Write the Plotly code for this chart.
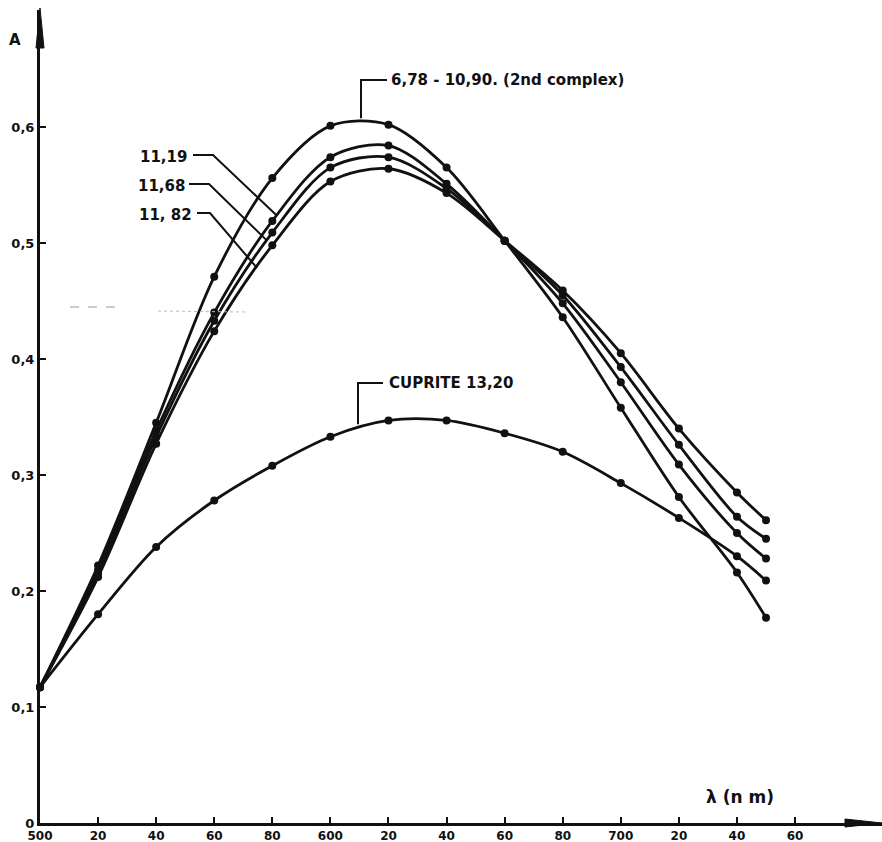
import numpy as np
import plotly.graph_objects as go

# Absorbance spectra (A vs wavelength in nm)
wavelength = [500, 520, 540, 560, 580, 600, 620, 640, 660, 680, 700, 720, 740, 750]
a_complex2 = [0.117, 0.222, 0.345, 0.471, 0.556, 0.601, 0.602, 0.565, 0.502, 0.436, 0.358, 0.281, 0.216, 0.177]
a_1119 = [0.117, 0.218, 0.338, 0.440, 0.519, 0.574, 0.584, 0.551, 0.502, 0.448, 0.380, 0.309, 0.250, 0.228]
a_1168 = [0.117, 0.215, 0.333, 0.433, 0.509, 0.565, 0.574, 0.547, 0.502, 0.455, 0.393, 0.326, 0.264, 0.245]
a_1182 = [0.117, 0.212, 0.327, 0.424, 0.498, 0.553, 0.564, 0.543, 0.502, 0.459, 0.405, 0.340, 0.285, 0.261]
a_cuprite = [0.117, 0.180, 0.238, 0.278, 0.308, 0.333, 0.347, 0.347, 0.336, 0.320, 0.293, 0.263, 0.230, 0.209]

x_tickvals = [500, 520, 540, 560, 580, 600, 620, 640, 660, 680, 700, 720, 740, 760]
x_ticktext = ["500", "20", "40", "60", "80", "600", "20", "40", "60", "80", "700", "20", "40", "60"]
y_tickvals = [0, 0.1, 0.2, 0.3, 0.4, 0.5, 0.6]
y_ticktext = ["0", "0,1", "0,2", "0,3", "0,4", "0,5", "0,6"]

W, H = 882, 842
ML, MB, MT = 40, 19, 10
PX_PER_NM = 2.904
PX_PER_A = 1160.0
X_MAX = 500 + (W - ML) / PX_PER_NM
Y_MAX = (H - MB - MT) / PX_PER_A

INK = "#111111"
FONT = "DejaVu Sans"

fig = go.Figure()

series = [a_complex2, a_1119, a_1168, a_1182, a_cuprite]
for ys in series:
    fig.add_trace(go.Scatter(
        x=wavelength, y=ys, mode="lines+markers",
        line=dict(color=INK, width=2.8, shape="spline", smoothing=0.9),
        marker=dict(color=INK, size=8),
        showlegend=False, cliponaxis=False,
    ))

def nm(px):
    return 500 + (px - ML) / PX_PER_NM

def av(py):
    return (H - MB - py) / PX_PER_A

def px_paper(px):
    return (px - ML) / (W - ML)

def py_paper(py):
    return (H - MB - py) / (H - MB - MT)

shapes = []
annotations = []

def leader(points):
    path = "M " + " L ".join(f"{x},{y}" for x, y in points)
    shapes.append(dict(type="path", path=path, xref="x", yref="y",
                       line=dict(color=INK, width=2)))

lab_font = dict(family=FONT, size=15, color=INK, weight="bold")

# 2nd complex label: leader rises from the peak of the curve
xp = nm(361)
yp = float(np.interp(xp, wavelength, a_complex2)) + 0.006
leader([(xp, yp), (xp, av(80)), (nm(387), av(80))])
annotations.append(dict(x=nm(389), y=av(80), xref="x", yref="y", text="6,78 - 10,90. (2nd complex)",
                        showarrow=False, xanchor="left", yanchor="middle", font=lab_font))

# 11,19 / 11,68 / 11,82 labels with bent leaders to their curves
for label, ys, ly, x_end_px, x0_px, x1_px, text_right_px in [
    ("11,19", a_1119, 155, 277, 193, 213, 189),
    ("11,68", a_1168, 184, 267, 189, 209, 187),
    ("11, 82", a_1182, 213, 257, 197, 210, 194),
]:
    xe = nm(x_end_px)
    ye = float(np.interp(xe, wavelength, ys))
    leader([(nm(x0_px), av(ly)), (nm(x1_px), av(ly)), (xe, ye)])
    annotations.append(dict(x=nm(text_right_px), y=av(ly + 2), xref="x", yref="y", text=label,
                            showarrow=False, xanchor="right", yanchor="middle", font=lab_font))

# Cuprite label
xc = nm(358)
yc = float(np.interp(xc, wavelength, a_cuprite)) + 0.004
leader([(xc, yc), (xc, av(383)), (nm(383), av(383))])
annotations.append(dict(x=nm(387), y=av(383), xref="x", yref="y", text="CUPRITE 13,20",
                        showarrow=False, xanchor="left", yanchor="middle", font=lab_font))

# Axis titles
annotations.append(dict(x=nm(740), y=av(797), xref="x", yref="y", text="λ (n m)",
                        showarrow=False, xanchor="center", yanchor="middle",
                        font=dict(family=FONT, size=17, color=INK, weight="bold")))
annotations.append(dict(x=px_paper(15), y=py_paper(40), xref="paper", yref="paper",
                        text="A", showarrow=False, xanchor="center", yanchor="middle",
                        font=dict(family=FONT, size=15, color=INK, weight="bold")))

# Arrow heads on both axes (paper-referenced so they are not clipped)
def tri(pts):
    return "M " + " L ".join(f"{px_paper(a)},{py_paper(b)}" for a, b in pts) + " Z"

shapes.append(dict(type="path", xref="paper", yref="paper", fillcolor=INK, line=dict(color=INK, width=1),
                   path=tri([(36, 48), (40, 8), (44, 48)])))
shapes.append(dict(type="path", xref="paper", yref="paper", fillcolor=INK, line=dict(color=INK, width=1),
                   path=tri([(845, 819), (882, 823), (845, 827)])))

# faint scanner streak
shapes.append(dict(type="line", xref="x", yref="y", x0=nm(70), x1=nm(115), y0=av(307), y1=av(307),
                   line=dict(color="#9a9a9a", width=1, dash="dash")))
shapes.append(dict(type="line", xref="x", yref="y", x0=nm(158), x1=nm(245), y0=av(311), y1=av(312),
                   line=dict(color="#bbbbbb", width=1, dash="dot")))

x_tick_font = dict(family=FONT, size=12, color=INK, weight="bold")
y_tick_font = dict(family=FONT, size=13, color=INK, weight="bold")

fig.update_layout(
    width=W, height=H,
    margin=dict(l=ML, r=0, t=MT, b=MB, autoexpand=False),
    paper_bgcolor="white", plot_bgcolor="white",
    shapes=shapes, annotations=annotations,
    xaxis=dict(range=[500, X_MAX], tickvals=x_tickvals, ticktext=x_ticktext, automargin=False,
               showgrid=False, zeroline=False, showline=True, linecolor=INK, linewidth=3,
               ticks="inside", ticklen=6, tickwidth=2, tickcolor=INK, tickfont=x_tick_font),
    yaxis=dict(range=[0, Y_MAX], tickvals=y_tickvals, ticktext=y_ticktext, automargin=False,
               showgrid=False, zeroline=False, showline=True, linecolor=INK, linewidth=3,
               ticks="inside", ticklen=6, tickwidth=2, tickcolor=INK, tickfont=y_tick_font),
)

fig.write_html("out.html")
